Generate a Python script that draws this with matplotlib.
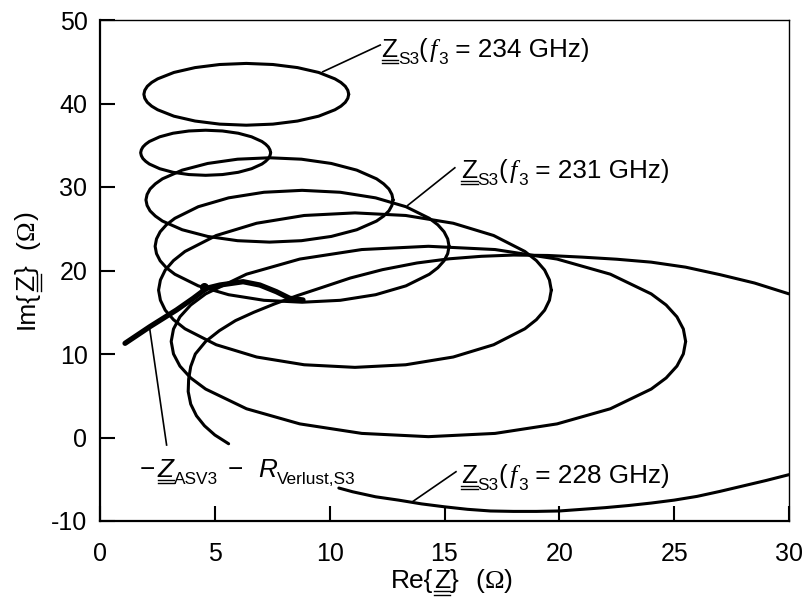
import matplotlib
matplotlib.use('Agg')
import matplotlib.pyplot as plt
from matplotlib.transforms import offset_copy, IdentityTransform
from matplotlib.lines import Line2D

plt.rcParams['font.family'] = ['Liberation Sans', 'DejaVu Sans']
plt.rcParams['axes.unicode_minus'] = False

# Z_S3 loci (Re, Im in Ohm), f3 = 234 ... 228 GHz
z234_x = [10.83, 10.79, 10.68, 10.49, 10.23, 9.52, 8.60, 7.53, 6.37, 5.21, 4.14, 3.22, 2.51, 2.25, 2.06, 1.95, 1.91, 1.95, 2.06, 2.25, 2.51, 3.22, 4.14, 5.21, 6.37, 7.53, 8.60, 9.52, 10.23, 10.49, 10.68, 10.79, 10.83]
z234_y = [41.1, 41.58, 42.06, 42.52, 42.95, 43.72, 44.30, 44.67, 44.8, 44.67, 44.30, 43.72, 42.95, 42.52, 42.06, 41.58, 41.1, 40.62, 40.14, 39.68, 39.25, 38.48, 37.90, 37.53, 37.4, 37.53, 37.90, 38.48, 39.25, 39.68, 40.14, 40.62, 41.1]

z233_x = [7.43, 7.40, 7.33, 7.21, 7.05, 6.60, 6.02, 5.33, 4.60, 3.87, 3.18, 2.60, 2.15, 1.99, 1.87, 1.80, 1.77, 1.80, 1.87, 1.99, 2.15, 2.60, 3.18, 3.87, 4.60, 5.33, 6.02, 6.60, 7.05, 7.21, 7.33, 7.40, 7.43]
z233_y = [34.1, 34.45, 34.8, 35.13, 35.45, 36.01, 36.44, 36.71, 36.8, 36.71, 36.44, 36.01, 35.45, 35.13, 34.8, 34.45, 34.1, 33.75, 33.4, 33.07, 32.75, 32.19, 31.76, 31.49, 31.4, 31.49, 31.76, 32.19, 32.75, 33.07, 33.4, 33.75, 34.1]

z232_x = [12.76, 12.71, 12.58, 12.35, 12.04, 11.18, 10.07, 8.77, 7.38, 5.99, 4.69, 3.58, 2.72, 2.41, 2.18, 2.05, 2.0, 2.05, 2.18, 2.41, 2.72, 3.58, 4.69, 5.99, 7.38, 8.77, 10.07, 11.18, 12.04, 12.35, 12.58, 12.71, 12.76]
z232_y = [28.45, 29.11, 29.76, 30.38, 30.98, 32.02, 32.82, 33.33, 33.5, 33.33, 32.82, 32.02, 30.98, 30.38, 29.76, 29.11, 28.45, 27.79, 27.14, 26.52, 25.92, 24.88, 24.08, 23.57, 23.4, 23.57, 24.08, 24.88, 25.92, 26.52, 27.14, 27.79, 28.45]

z231_x = [15.2, 15.14, 14.98, 14.71, 14.34, 13.32, 12.0, 10.46, 8.8, 7.14, 5.6, 4.28, 3.26, 2.89, 2.62, 2.46, 2.4, 2.46, 2.62, 2.89, 3.26, 4.28, 5.6, 7.14, 8.8, 10.46, 12.0, 13.32, 14.34, 14.71, 14.98, 15.14, 15.2]
z231_y = [22.9, 23.78, 24.64, 25.47, 26.25, 27.64, 28.7, 29.37, 29.6, 29.37, 28.7, 27.64, 26.25, 25.47, 24.64, 23.78, 22.9, 22.02, 21.16, 20.33, 19.55, 18.16, 17.1, 16.43, 16.2, 16.43, 17.1, 18.16, 19.55, 20.33, 21.16, 22.02, 22.9]

z230_x = [19.65, 19.57, 19.36, 19.0, 18.5, 17.14, 15.38, 13.31, 11.1, 8.89, 6.82, 5.06, 3.7, 3.2, 2.84, 2.63, 2.55, 2.63, 2.84, 3.2, 3.7, 5.06, 6.82, 8.89, 11.1, 13.31, 15.38, 17.14, 18.5, 19.0, 19.36, 19.57, 19.65]
z230_y = [17.65, 18.86, 20.05, 21.19, 22.28, 24.19, 25.66, 26.59, 26.9, 26.59, 25.66, 24.19, 22.28, 21.19, 20.05, 18.86, 17.65, 16.44, 15.25, 14.11, 13.02, 11.11, 9.64, 8.71, 8.4, 8.71, 9.64, 11.11, 13.02, 14.11, 15.25, 16.44, 17.65]

z229_x = [25.5, 25.4, 25.12, 24.65, 24.0, 22.22, 19.9, 17.2, 14.3, 11.4, 8.7, 6.38, 4.6, 3.95, 3.48, 3.2, 3.1, 3.2, 3.48, 3.95, 4.6, 6.38, 8.7, 11.4, 14.3, 17.2, 19.9, 22.22, 24.0, 24.65, 25.12, 25.4, 25.5]
z229_y = [11.5, 12.99, 14.45, 15.87, 17.2, 19.56, 21.37, 22.51, 22.9, 22.51, 21.37, 19.56, 17.2, 15.87, 14.45, 12.99, 11.5, 10.01, 8.55, 7.13, 5.8, 3.44, 1.63, 0.49, 0.1, 0.49, 1.63, 3.44, 5.8, 7.13, 8.55, 10.01, 11.5]

# 228 GHz: only the visible parts (the rest is hidden by the label / axes)
z228a_x = [5.6, 5.0, 4.55, 4.2, 3.95, 3.84, 3.86, 3.95, 4.15, 4.6, 5.2, 5.9, 6.7, 7.6, 8.6, 9.7, 10.9, 12.3, 13.8, 15.2, 16.6, 18.0, 19.5, 21.0, 22.5, 24.0, 25.5, 27.0, 28.5, 30.0]
z228a_y = [-0.75, 0.3, 1.4, 2.6, 4.0, 5.5, 7.0, 8.5, 10.0, 11.5, 12.8, 14.0, 15.0, 16.0, 17.0, 18.0, 19.1, 20.1, 20.9, 21.4, 21.7, 21.85, 21.8, 21.6, 21.35, 21.0, 20.4, 19.5, 18.5, 17.2]
z228b_x = [10.4, 11, 12, 13, 14, 15, 16, 17, 18, 19, 20, 21, 22, 23, 24, 25, 26, 27, 28, 29, 30]
z228b_y = [-6.05, -6.5, -7.1, -7.5, -7.95, -8.3, -8.6, -8.8, -8.85, -8.85, -8.8, -8.6, -8.4, -8.15, -7.85, -7.5, -7.05, -6.45, -5.8, -5.15, -4.45]

# -Z_ASV3 - R_Verlust,S3 (thick curve)
asv_x = [1.09, 2.17, 3.33, 4.06, 4.64, 5.22, 6.23, 6.96, 7.68, 8.26, 8.84]
asv_y = [11.28, 13.27, 15.27, 16.67, 17.87, 18.26, 18.66, 18.26, 17.46, 16.67, 16.47]
asv_mark = (4.55, 18.0)

x_ticks = [0, 5, 10, 15, 20, 25, 30]
y_ticks = [-10, 0, 10, 20, 30, 40, 50]

fig = plt.figure(figsize=(8.06, 6.02), dpi=100)
ax = fig.add_axes([100 / 806, 81 / 602, 689 / 806, 501 / 602])
ax.set_xlim(0, 30)
ax.set_ylim(-10, 50)
ax.set_xticks(x_ticks)
ax.set_yticks(y_ticks)
ax.tick_params(direction='in', length=10.5, width=1.5, labelsize=18,
               top=False, right=False)
ax.tick_params(axis='x', pad=15)
ax.tick_params(axis='y', pad=9)
for s in ['left', 'bottom']:
    ax.spines[s].set_linewidth(1.6)
for s in ['top', 'right']:
    ax.spines[s].set_linewidth(1.0)

kw = dict(color='black', lw=2.2, solid_joinstyle='round', solid_capstyle='round')
for xs, ys in [(z234_x, z234_y), (z233_x, z233_y), (z232_x, z232_y),
               (z231_x, z231_y), (z230_x, z230_y), (z229_x, z229_y),
               (z228a_x, z228a_y), (z228b_x, z228b_y)]:
    ax.plot(xs, ys, **kw)

ax.plot(asv_x, asv_y, color='black', lw=3.8, solid_capstyle='round',
        solid_joinstyle='round', zorder=3)
ax.plot([asv_mark[0]], [asv_mark[1]], 'o', color='black', ms=5.5, zorder=3)

# leader lines
leaders = [((9.7, 43.8), (12.2, 47.0)),
           ((13.4, 27.8), (15.45, 32.3)),
           ((13.6, -7.7), (15.5, -4.1)),
           ((2.15, 13.3), (2.9, -0.9))]
for a, b in leaders:
    ax.plot([a[0], b[0]], [a[1], b[1]], color='black', lw=1.2)


def rich(x, y, runs, size, trans, rot=0, center=False):
    # text built from pieces: flags i=italic, s=subscript, u=underline, r=serif
    rend = fig.canvas.get_renderer()
    k = fig.dpi / 72.0
    items = []
    pos = 0.0
    for s, fl in runs:
        if fl == 'gap':
            pos += s * k
            continue
        fs = size * 0.66 if 's' in fl else size
        drop = 0.28 * size * k if 's' in fl else 0.0
        style = 'italic' if 'i' in fl else 'normal'
        fam = ['Liberation Serif'] if 'r' in fl else ['Liberation Sans', 'DejaVu Sans']
        t = ax.text(x, y, s, fontsize=fs, style=style, family=fam, rotation=rot,
                    rotation_mode='anchor', ha='left', va='baseline',
                    transform=trans, clip_on=False, zorder=5)
        bb = t.get_window_extent(rend)
        length = bb.height if rot else bb.width
        items.append((t, pos, drop, length, 'u' in fl))
        pos += length
    shift = -pos / 2 if center else 0.0
    x0, y0 = trans.transform((x, y))
    for t, p, drop, length, ul in items:
        p += shift
        dx, dy = (drop, p) if rot else (p, -drop)
        t.set_transform(offset_copy(trans, fig=fig, x=dx, y=dy, units='dots'))
        if ul:
            for off in (3.0, 6.5):
                if rot:
                    xs, ys = [x0 + off, x0 + off], [y0 + p, y0 + p + length]
                else:
                    xs, ys = [x0 + p, x0 + p + length], [y0 - off, y0 - off]
                fig.add_artist(Line2D(xs, ys, transform=IdentityTransform(),
                                      color='black', lw=1.0))


def zs3(freq):
    return [('Z', 'u'), ('S3', 's'), ('(', 'n'), (1.5, 'gap'), ('f', 'ri'),
            (1, 'gap'), ('3', 's'), (' = %d GHz)' % freq, 'n')]


rich(12.26, 45.57, zs3(234), 18.8, ax.transData)
rich(15.74, 31.08, zs3(231), 18.8, ax.transData)
rich(15.74, -5.4, zs3(228), 18.8, ax.transData)
rich(1.74, -4.73, [('\u2212', 'n'), (2, 'gap'), ('Z', 'iu'), ('ASV3', 's'),
                   (7, 'gap'), ('\u2212', 'n'), (11, 'gap'), ('R', 'i'),
                   ('Verlust,S3', 's')], 18.8, ax.transData)

xlab = [('Re{', 'n'), ('Z', 'u'), ('}', 'n'), (12, 'gap'), ('(', 'n'), ('\u03a9', 'r'), (')', 'n')]
ylab = [('Im{', 'n'), ('Z', 'u'), ('}', 'n'), (12, 'gap'), ('(', 'n'), ('\u03a9', 'r'), (')', 'n')]
rich(452 / 806, (602 - 588) / 602, xlab, 19, fig.transFigure, center=True)
rich(34 / 806, (602 - 270) / 602, ylab, 19, fig.transFigure, rot=90, center=True)

fig.savefig('out.png', dpi=100)
